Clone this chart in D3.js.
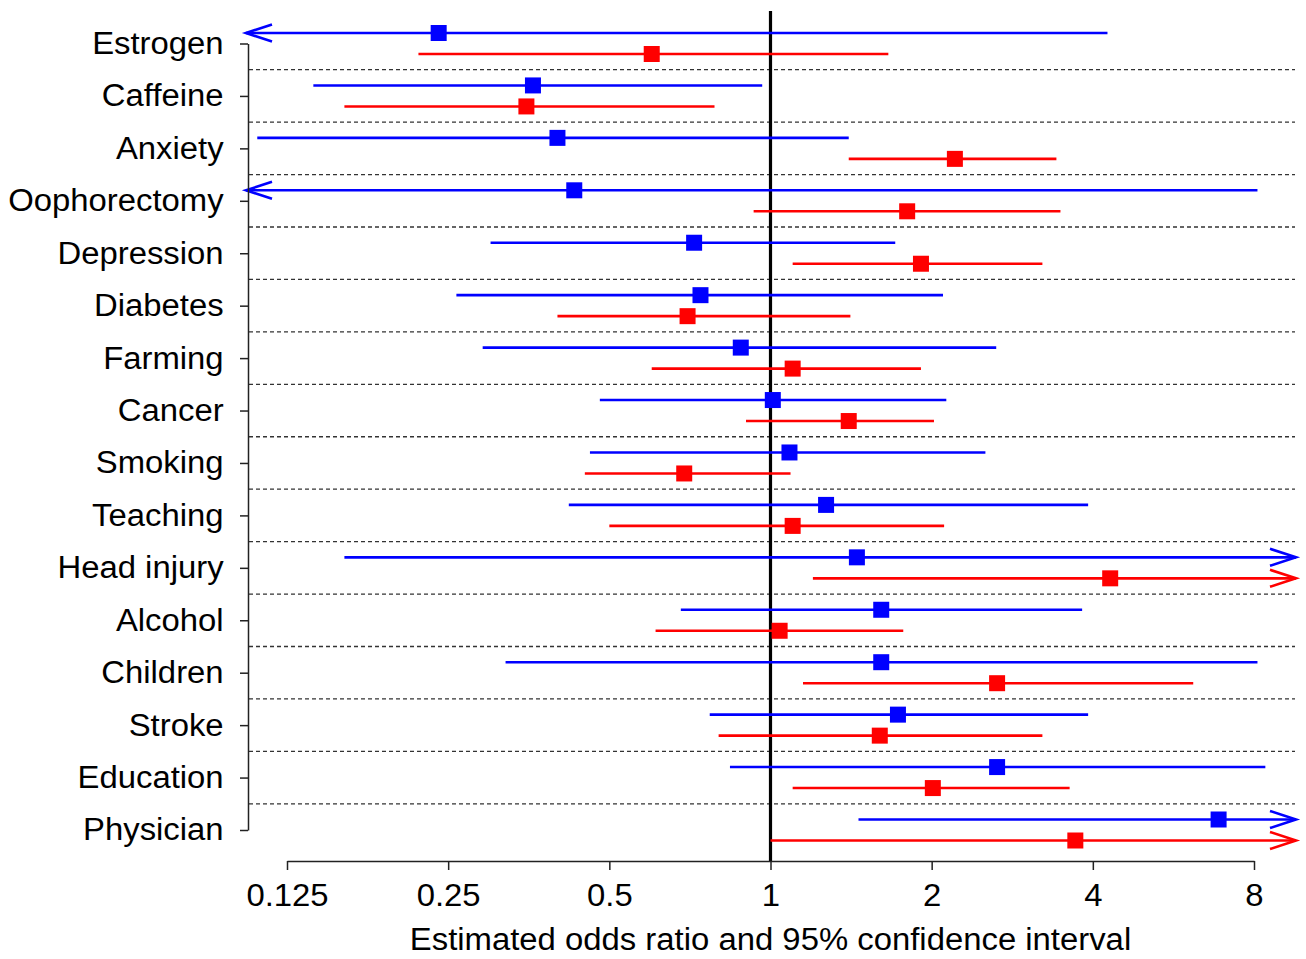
<!DOCTYPE html>
<html>
<head>
<meta charset="utf-8">
<script src="https://cdn.jsdelivr.net/npm/d3@7"></script>
<style>
  html, body { margin: 0; padding: 0; background: #fff; }
  svg { display: block; font-family: "Liberation Sans", Arial, Helvetica, sans-serif; }
</style>
</head>
<body>
<div id="chart"></div>
<script>
// risk factors, top to bottom
var factors = ['Estrogen', 'Caffeine', 'Anxiety', 'Oophorectomy', 'Depression', 'Diabetes',
    'Farming', 'Cancer', 'Smoking', 'Teaching', 'Head injury', 'Alcohol', 'Children',
    'Stroke', 'Education', 'Physician'];

// blue series: odds ratio, lower and upper 95% limits
var blueOR = [0.24, 0.36, 0.40, 0.43, 0.72, 0.74, 0.88, 1.01, 1.085, 1.27, 1.45, 1.61, 1.61, 1.73, 2.65, 6.87];
var blueLo = [0.05, 0.14, 0.11, 0.04, 0.30, 0.259, 0.29, 0.48, 0.46, 0.42, 0.16, 0.68, 0.32, 0.77, 0.84, 1.46];
var blueHi = [4.26, 0.965, 1.40, 8.12, 1.71, 2.10, 2.64, 2.13, 2.52, 3.92, 14, 3.82, 8.12, 3.92, 8.40, 25];

// red series
var redOR = [0.60, 0.35, 2.21, 1.80, 1.91, 0.70, 1.10, 1.40, 0.69, 1.10, 4.31, 1.04, 2.65, 1.60, 2.01, 3.71];
var redLo = [0.22, 0.16, 1.40, 0.93, 1.10, 0.40, 0.60, 0.90, 0.45, 0.50, 1.20, 0.61, 1.15, 0.80, 1.10, 1.00];
var redHi = [1.66, 0.786, 3.42, 3.48, 3.22, 1.41, 1.91, 2.02, 1.09, 2.11, 20, 1.77, 6.16, 3.22, 3.62, 16];

var xTicks = [0.125, 0.25, 0.5, 1, 2, 4, 8];
var xTitle = 'Estimated odds ratio and 95% confidence interval';

var W = 1306, H = 959;
var plotLeft = 246, plotRight = 1296;   // where arrows point when a limit is off the scale
var axisX = 248, axisY = 861;
var offset = 10.5;                      // blue above, red below the row centre
var arrowLen = 26, arrowHalf = 8.5;
var sq = 16;
var stretch = 'scale(1.06,1)';          // the original type sets a little wider

var svg = d3.select('#chart').append('svg').attr('width', W).attr('height', H);

var x = d3.scaleLog().base(2).domain([0.125, 8]).range([287, 1254]);
var y = d3.scalePoint().domain(factors).range([43.5, 830]);
var step = y.step();

var minV = x.invert(plotLeft), maxV = x.invert(plotRight);

// dotted separators between rows
svg.append('g').selectAll('line')
    .data(factors.slice(0, -1))
    .enter().append('line')
    .attr('x1', axisX + 1).attr('x2', plotRight - 1)
    .attr('y1', function (d) { return y(d) + step / 2; })
    .attr('y2', function (d) { return y(d) + step / 2; })
    .attr('stroke', '#333').attr('stroke-width', 1.3)
    .attr('stroke-dasharray', '4,3');

// reference line at OR = 1
svg.append('line')
    .attr('x1', x(1)).attr('x2', x(1))
    .attr('y1', 11).attr('y2', axisY)
    .attr('stroke', '#000').attr('stroke-width', 3.2);

var series = [
    { color: '#0000ff', dy: -offset, or: blueOR, lo: blueLo, hi: blueHi },
    { color: '#ff0000', dy: offset, or: redOR, lo: redLo, hi: redHi }
];

series.forEach(function (s) {
    var rows = factors.map(function (f, i) {
        return { name: f, or: s.or[i], lo: s.lo[i], hi: s.hi[i] };
    });
    var g = svg.append('g');

    g.selectAll('line.ci')
        .data(rows)
        .enter().append('line')
        .attr('class', 'ci')
        .attr('x1', function (d) { return d.lo < minV ? plotLeft : x(d.lo); })
        .attr('x2', function (d) { return d.hi > maxV ? plotRight : x(d.hi); })
        .attr('y1', function (d) { return y(d.name) + s.dy; })
        .attr('y2', function (d) { return y(d.name) + s.dy; })
        .attr('stroke', s.color).attr('stroke-width', 2.6);

    // open arrowheads for limits beyond the axis
    g.selectAll('path.left')
        .data(rows.filter(function (d) { return d.lo < minV; }))
        .enter().append('path')
        .attr('d', function (d) {
            var yy = y(d.name) + s.dy;
            return 'M' + (plotLeft + arrowLen) + ',' + (yy - arrowHalf) + 'L' + plotLeft + ',' + yy +
                'L' + (plotLeft + arrowLen) + ',' + (yy + arrowHalf);
        })
        .attr('fill', 'none').attr('stroke', s.color).attr('stroke-width', 2.6);

    g.selectAll('path.right')
        .data(rows.filter(function (d) { return d.hi > maxV; }))
        .enter().append('path')
        .attr('d', function (d) {
            var yy = y(d.name) + s.dy;
            return 'M' + (plotRight - arrowLen) + ',' + (yy - arrowHalf) + 'L' + plotRight + ',' + yy +
                'L' + (plotRight - arrowLen) + ',' + (yy + arrowHalf);
        })
        .attr('fill', 'none').attr('stroke', s.color).attr('stroke-width', 2.6);

    g.selectAll('rect')
        .data(rows)
        .enter().append('rect')
        .attr('x', function (d) { return x(d.or) - sq / 2; })
        .attr('y', function (d) { return y(d.name) + s.dy - sq / 2; })
        .attr('width', sq).attr('height', sq)
        .attr('fill', s.color);
});

// axes
var xAxis = d3.axisBottom(x).tickValues(xTicks)
    .tickFormat(function (d) { return String(d); })
    .tickSize(9).tickSizeOuter(0).tickPadding(14);
var gx = svg.append('g').attr('transform', 'translate(0,' + axisY + ')').call(xAxis);
gx.attr('font-family', null);
gx.selectAll('text').attr('font-size', 31).attr('fill', '#000').attr('transform', stretch);

var yAxis = d3.axisLeft(y).tickSize(8).tickSizeOuter(0).tickPadding(15);
var gy = svg.append('g').attr('transform', 'translate(' + axisX + ',0)').call(yAxis);
gy.attr('font-family', null);
gy.selectAll('text').attr('font-size', 31).attr('fill', '#000').attr('transform', stretch);

svg.selectAll('.domain, .tick line').attr('stroke', '#222').attr('stroke-width', 1.5);

svg.append('text')
    .attr('transform', 'translate(' + x(1) + ',950) ' + stretch)
    .attr('text-anchor', 'middle')
    .attr('font-size', 31)
    .text(xTitle);
</script>
</body>
</html>
